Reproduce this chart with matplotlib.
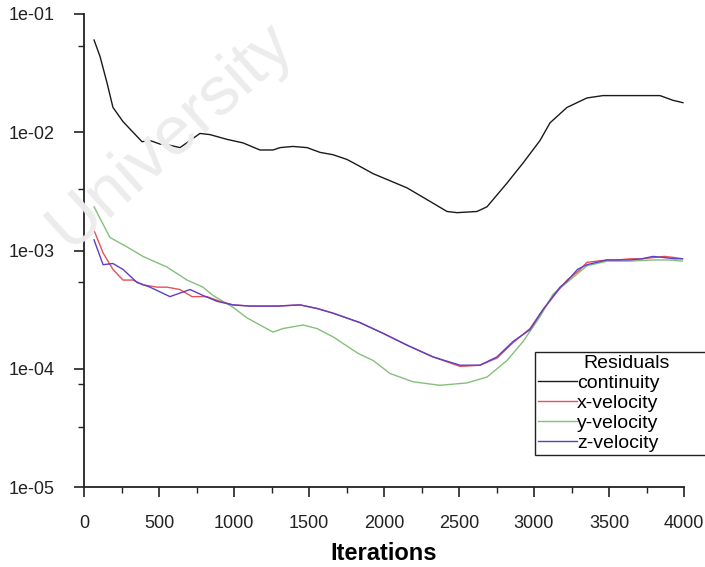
import matplotlib
matplotlib.use("Agg")
import matplotlib.pyplot as plt
import numpy as np
from matplotlib.ticker import FixedLocator, FuncFormatter

plt.rcParams['font.family'] = ['Liberation Sans', 'DejaVu Sans']

# ---- data (log10 residual values) ----
cont_it = [67, 107, 153, 193, 260, 327, 387, 440, 507, 573, 640, 707, 773, 840, 953, 1060,
           1173, 1260, 1307, 1393, 1487, 1573, 1660, 1753, 1827, 1927, 2153, 2287, 2420,
           2487, 2620, 2687, 2820, 2927, 3040, 3107, 3220, 3353, 3460, 3593, 3707, 3840,
           3927, 3993]
cont_log = [-1.22, -1.36, -1.58, -1.79, -1.91, -2.00, -2.08, -2.07, -2.10, -2.11, -2.13,
            -2.07, -2.01, -2.02, -2.06, -2.09, -2.15, -2.15, -2.13, -2.12, -2.13, -2.17,
            -2.19, -2.23, -2.28, -2.35, -2.47, -2.57, -2.67, -2.68, -2.67, -2.63, -2.43,
            -2.26, -2.07, -1.92, -1.79, -1.71, -1.69, -1.69, -1.69, -1.69, -1.73, -1.75]

xv_it = [67, 127, 193, 260, 327, 393, 487, 553, 640, 720, 820, 907, 993, 1107, 1287, 1440,
         1553, 1660, 1840, 1993, 2153, 2327, 2507, 2640, 2753, 2860, 2973, 3060, 3173,
         3220, 3300, 3353, 3420, 3487, 3560, 3640, 3720, 3793, 3870, 3940, 3990]
xv_log = [-2.83, -3.02, -3.16, -3.25, -3.25, -3.29, -3.31, -3.31, -3.33, -3.39, -3.39,
          -3.43, -3.46, -3.47, -3.47, -3.46, -3.49, -3.53, -3.61, -3.70, -3.80, -3.90,
          -3.98, -3.97, -3.91, -3.78, -3.66, -3.50, -3.32, -3.25, -3.17, -3.10, -3.09,
          -3.08, -3.08, -3.07, -3.07, -3.06, -3.05, -3.06, -3.07]

yv_it = [67, 173, 287, 393, 553, 687, 793, 860, 993, 1087, 1260, 1327, 1460, 1553, 1660,
         1827, 1927, 2040, 2193, 2373, 2553, 2687, 2820, 2927, 3040, 3127, 3220, 3353,
         3487, 3640, 3793, 3900, 3990]
yv_log = [-2.63, -2.89, -2.97, -3.05, -3.14, -3.25, -3.31, -3.38, -3.48, -3.57, -3.69,
          -3.66, -3.63, -3.66, -3.73, -3.87, -3.93, -4.04, -4.11, -4.14, -4.12, -4.07,
          -3.93, -3.77, -3.56, -3.37, -3.27, -3.13, -3.09, -3.09, -3.08, -3.08, -3.09]

zv_it = [67, 127, 193, 260, 353, 440, 573, 707, 793, 887, 993, 1107, 1287, 1440, 1553,
         1660, 1840, 1993, 2153, 2327, 2507, 2640, 2753, 2860, 2973, 3060, 3173, 3220,
         3290, 3353, 3420, 3487, 3560, 3640, 3720, 3793, 3870, 3940, 3990]
zv_log = [-2.91, -3.12, -3.11, -3.16, -3.27, -3.31, -3.39, -3.33, -3.38, -3.43, -3.46,
          -3.47, -3.47, -3.46, -3.49, -3.53, -3.61, -3.70, -3.80, -3.90, -3.97, -3.97,
          -3.90, -3.77, -3.67, -3.50, -3.31, -3.26, -3.16, -3.12, -3.10, -3.08, -3.08,
          -3.08, -3.07, -3.05, -3.06, -3.07, -3.07]

series_names = ["continuity", "x-velocity", "y-velocity", "z-velocity"]
series_colors = ["#1a1a1a", "#e8505a", "#84c07a", "#5a40c8"]
x_ticks = [0, 500, 1000, 1500, 2000, 2500, 3000, 3500, 4000]
y_ticks = [1e-5, 1e-4, 1e-3, 1e-2, 1e-1]
y_tick_labels = ["1e-05", "1e-04", "1e-03", "1e-02", "1e-01"]
y_minor = [3.2e-5, 7.5e-5, 5.4e-4, 3.3e-3, 5.4e-2]

fig = plt.figure(figsize=(7.05, 5.67), dpi=100)
ax = fig.add_axes([84 / 705, 1 - 487 / 567, 600 / 705, 473 / 567])

# faint watermark
fig.text(170 / 705, 1 - 135 / 567, "University", fontsize=50, color="#ececec",
         rotation=42, ha="center", va="center", zorder=0)
ax.patch.set_alpha(0)

data = [(cont_it, cont_log), (xv_it, xv_log), (yv_it, yv_log), (zv_it, zv_log)]
order = [0, 2, 1, 3]
handles = {}
for i in order:
    it, lg = data[i]
    h, = ax.plot(it, 10 ** np.array(lg), color=series_colors[i], lw=1.0)
    handles[i] = h

ax.set_yscale("log")
ax.set_xlim(0, 4000)
ax.set_ylim(1e-5, 1e-1)
ax.yaxis.set_major_locator(FixedLocator(y_ticks))
ax.yaxis.set_major_formatter(FuncFormatter(
    lambda v, p: y_tick_labels[int(np.argmin([abs(np.log10(t) - np.log10(v)) for t in y_ticks]))]))
ax.yaxis.set_minor_locator(FixedLocator(y_minor))
ax.yaxis.set_minor_formatter(FuncFormatter(lambda v, p: ""))
ax.xaxis.set_major_locator(FixedLocator(x_ticks))
ax.xaxis.set_minor_locator(FixedLocator(np.arange(250, 4000, 500)))

for s in ["top", "right"]:
    ax.spines[s].set_visible(False)
for s in ["left", "bottom"]:
    ax.spines[s].set_linewidth(1.3)
    ax.spines[s].set_color("#222222")

ax.tick_params(axis="both", which="major", direction="out", length=7, width=1.2,
               labelsize=13, colors="#222222")
ax.tick_params(axis="both", which="minor", direction="out", length=4, width=1.0,
               colors="#222222")
ax.tick_params(axis="x", which="major", pad=13)
ax.tick_params(axis="y", which="major", pad=14)

ax.set_xlabel("Iterations", fontsize=17, fontweight="bold", labelpad=7)

leg = fig.legend([handles[i] for i in range(4)], series_names,
                 title="Residuals", loc="upper left",
                 bbox_to_anchor=(535 / 705, 1 - 352 / 567 - 0.3, 0.26, 0.3),
                 bbox_transform=fig.transFigure, mode="expand",
                 fontsize=14, title_fontsize=14, frameon=True, fancybox=False,
                 edgecolor="#222222", framealpha=1, borderpad=0.15,
                 labelspacing=0.12, handlelength=2.0, handletextpad=0.0,
                 borderaxespad=0)
leg.get_frame().set_linewidth(1.0)

fig.savefig("out.png", dpi=100)
